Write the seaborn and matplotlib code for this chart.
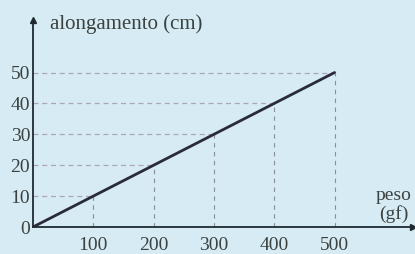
import matplotlib
matplotlib.use("Agg")
import matplotlib.pyplot as plt
import seaborn as sns
import pandas as pd

# valores
peso = [0, 100, 200, 300, 400, 500]
alongamento = [0, 10, 20, 30, 40, 50]
x_ticks = [100, 200, 300, 400, 500]
y_ticks = [0, 10, 20, 30, 40, 50]

df = pd.DataFrame({"peso": peso, "alongamento": alongamento})

sns.set_theme(style="white")
plt.rcParams["font.family"] = ["Liberation Serif", "DejaVu Serif"]

bg = "#d6ebf4"
txt = "#3b4240"

fig = plt.figure(figsize=(4.15, 2.54), dpi=100, facecolor=bg)
ax = fig.add_axes([33 / 415, 27 / 254, 380 / 415, 207 / 254])
ax.set_facecolor(bg)

# linhas tracejadas de referencia
for x, y in zip(peso[1:], alongamento[1:]):
    ax.hlines(y, 0, x, colors="#aaa5bd", linestyles=(0, (4, 3)), linewidth=0.9)
    ax.vlines(x, 0, y, colors="#8a8f96", linestyles=(0, (4, 4)), linewidth=0.8)

sns.lineplot(data=df, x="peso", y="alongamento", ax=ax, color="#2a2a3c",
             linewidth=2.0)

ax.set_xlim(0, 630)
ax.set_ylim(0, 67)
ax.set_xticks(x_ticks)
ax.set_yticks(y_ticks)
ax.set_xticklabels([str(v) for v in x_ticks], fontsize=14, color=txt)
ax.set_yticklabels([str(v) for v in y_ticks], fontsize=14, color=txt)
ax.tick_params(axis="x", length=0, pad=7)
ax.tick_params(axis="y", length=0, pad=2)
ax.set_xlabel("")
ax.set_ylabel("")

for s in ["top", "right"]:
    ax.spines[s].set_visible(False)
for s in ["left", "bottom"]:
    ax.spines[s].set_color("#1e2a30")
    ax.spines[s].set_linewidth(1.3)

# setas dos eixos
ax.plot(1, 0, ">", transform=ax.transAxes, clip_on=False, color="#1e2a30", ms=4)
ax.plot(0, 1, "^", transform=ax.transAxes, clip_on=False, color="#1e2a30", ms=4)

ax.text(0.045, 0.98, "alongamento (cm)", transform=ax.transAxes, fontsize=15,
        color=txt, va="center", ha="left")
ax.text(0.997, 0.105, "peso\n(gf)", transform=ax.transAxes, fontsize=14,
        color=txt, va="center", ha="right", linespacing=1.1,
        multialignment="center")

fig.savefig("out.png", dpi=100, facecolor=bg)
